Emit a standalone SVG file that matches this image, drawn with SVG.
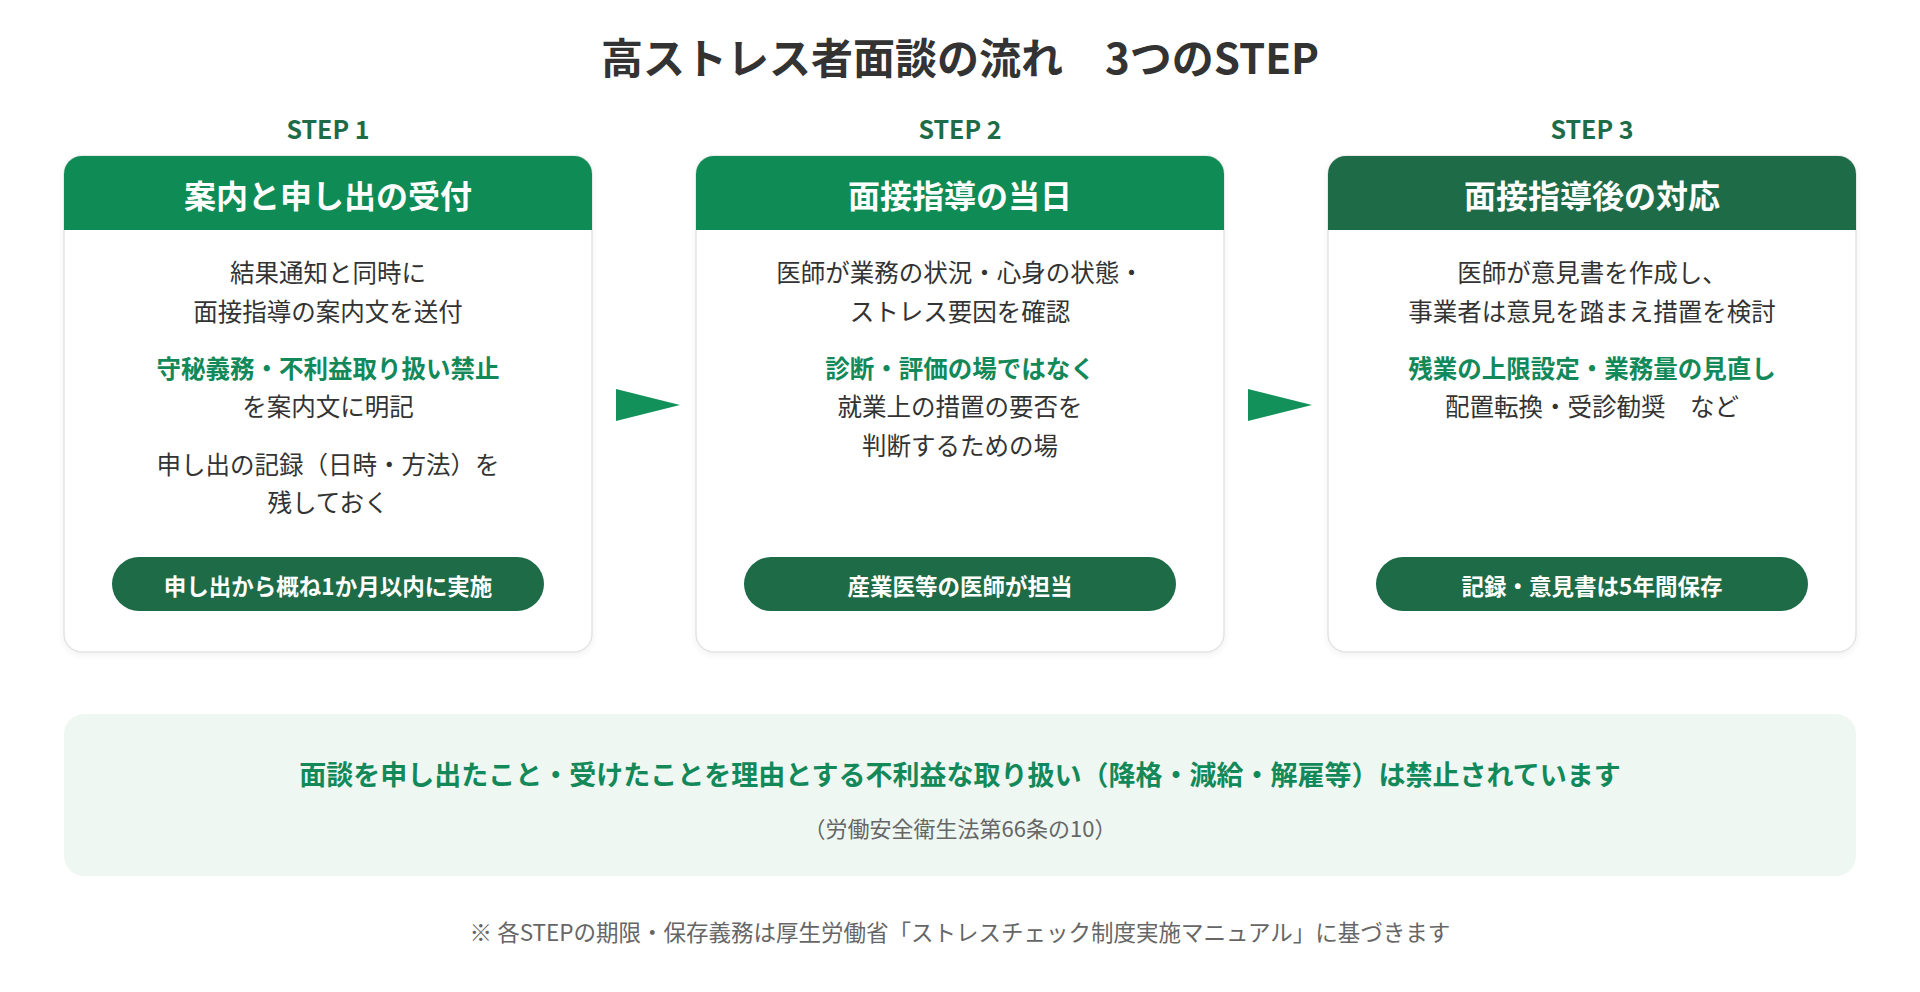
<svg xmlns="http://www.w3.org/2000/svg" width="1920" height="992" viewBox="0 0 1920 992">
<defs>
<style>
text{font-family:"Noto Sans CJK JP","Noto Sans",sans-serif;text-anchor:middle;dominant-baseline:central}
.title{font-size:42px;font-weight:700;fill:#333333}
.step{font-size:25px;font-weight:700;fill:#1E6B48}
.card{fill:#ffffff;stroke:#E2E5E3;stroke-width:1.5}
.hdr{fill:#0F8C55}
.hdr3{fill:#1E6B48}
.htxt{font-size:32px;font-weight:700;fill:#ffffff}
.body{font-size:24.5px;fill:#333333}
.em{font-size:24.5px;font-weight:700;fill:#13895A}
.pill{fill:#1E6B48}
.ptxt{font-size:22.5px;font-weight:700;fill:#ffffff}
.arrow{fill:#13915A}
.banner{fill:#EEF7F2}
.btxt{font-size:27px;font-weight:700;fill:#13895A}
.sub{font-size:22px;fill:#666666}
.note{font-size:22.5px;fill:#666666}
</style>
<filter id="sh" x="-5%" y="-5%" width="110%" height="110%">
<feDropShadow dx="0" dy="2" stdDeviation="3" flood-color="#000" flood-opacity="0.06"/>
</filter>
</defs>
<rect width="1920" height="992" fill="#ffffff"/>
<text class="title" x="960" y="55">高ストレス者面談の流れ　3つのSTEP</text>

<g id="step1">
<text class="step" x="328" y="128">STEP 1</text>
<rect class="card" x="64" y="156" width="528" height="496" rx="18" filter="url(#sh)"/>
<path class="hdr" d="M64,230 V174 A18,18 0 0 1 82,156 H574 A18,18 0 0 1 592,174 V230 Z"/>
<text class="htxt" x="328" y="194">案内と申し出の受付</text>
<text class="body" x="328" y="271">結果通知と同時に</text>
<text class="body" x="328" y="310">面接指導の案内文を送付</text>
<text class="em" x="328" y="367">守秘義務・不利益取り扱い禁止</text>
<text class="body" x="328" y="405">を案内文に明記</text>
<text class="body" x="328" y="463">申し出の記録（日時・方法）を</text>
<text class="body" x="328" y="501">残しておく</text>
<rect class="pill" x="112" y="557" width="432" height="54" rx="27"/>
<text class="ptxt" x="328" y="585">申し出から概ね1か月以内に実施</text>
</g>

<g id="step2">
<text class="step" x="960" y="128">STEP 2</text>
<rect class="card" x="696" y="156" width="528" height="496" rx="18" filter="url(#sh)"/>
<path class="hdr" d="M696,230 V174 A18,18 0 0 1 714,156 H1206 A18,18 0 0 1 1224,174 V230 Z"/>
<text class="htxt" x="960" y="194">面接指導の当日</text>
<text class="body" x="960" y="271">医師が業務の状況・心身の状態・</text>
<text class="body" x="960" y="310">ストレス要因を確認</text>
<text class="em" x="960" y="367">診断・評価の場ではなく</text>
<text class="body" x="960" y="405">就業上の措置の要否を</text>
<text class="body" x="960" y="444">判断するための場</text>
<rect class="pill" x="744" y="557" width="432" height="54" rx="27"/>
<text class="ptxt" x="960" y="585">産業医等の医師が担当</text>
</g>

<g id="step3">
<text class="step" x="1592" y="128">STEP 3</text>
<rect class="card" x="1328" y="156" width="528" height="496" rx="18" filter="url(#sh)"/>
<path class="hdr3" d="M1328,230 V174 A18,18 0 0 1 1346,156 H1838 A18,18 0 0 1 1856,174 V230 Z"/>
<text class="htxt" x="1592" y="194">面接指導後の対応</text>
<text class="body" x="1592" y="271">医師が意見書を作成し、</text>
<text class="body" x="1592" y="310">事業者は意見を踏まえ措置を検討</text>
<text class="em" x="1592" y="367">残業の上限設定・業務量の見直し</text>
<text class="body" x="1592" y="405">配置転換・受診勧奨　など</text>
<rect class="pill" x="1376" y="557" width="432" height="54" rx="27"/>
<text class="ptxt" x="1592" y="585">記録・意見書は5年間保存</text>
</g>

<g id="connectors">
<polygon class="arrow" points="616,389 680,405 616,421"/>
<polygon class="arrow" points="1248,389 1312,405 1248,421"/>
</g>

<g id="banner">
<rect class="banner" x="64" y="714" width="1792" height="162" rx="20"/>
<text class="btxt" x="960" y="773">面談を申し出たこと・受けたことを理由とする不利益な取り扱い（降格・減給・解雇等）は禁止されています</text>
<text class="sub" x="960" y="827">（労働安全衛生法第66条の10）</text>
</g>

<text class="note" x="960" y="931">※ 各STEPの期限・保存義務は厚生労働省「ストレスチェック制度実施マニュアル」に基づきます</text>
</svg>
